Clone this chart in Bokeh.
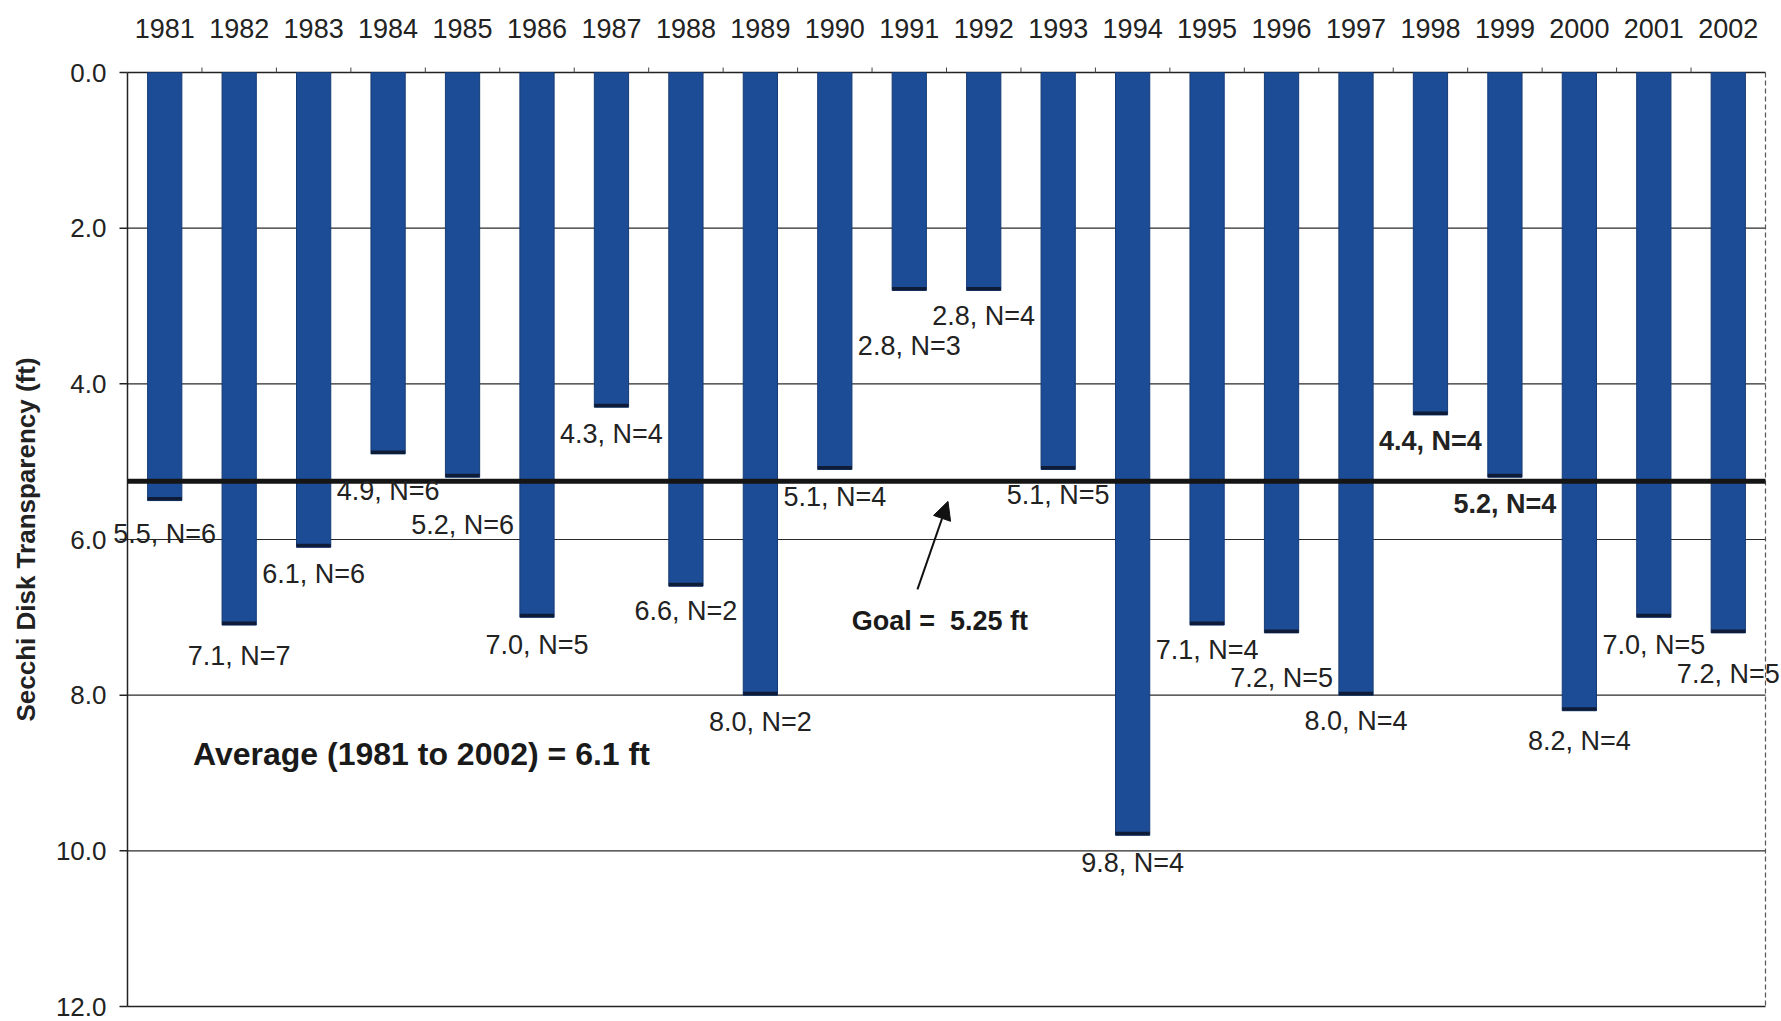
import math
from bokeh.plotting import figure
from bokeh.models import Range1d, ColumnDataSource, Label, Span, Arrow, NormalHead
from bokeh.embed import file_html
from bokeh.resources import INLINE

# ---------------- data ----------------
years = ["1981", "1982", "1983", "1984", "1985", "1986", "1987", "1988", "1989", "1990", "1991",
         "1992", "1993", "1994", "1995", "1996", "1997", "1998", "1999", "2000", "2001", "2002"]
secchi_ft = [5.5, 7.1, 6.1, 4.9, 5.2, 7.0, 4.3, 6.6, 8.0, 5.1, 2.8,
             2.8, 5.1, 9.8, 7.1, 7.2, 8.0, 4.4, 5.2, 8.2, 7.0, 7.2]
n_samples = [6, 7, 6, 6, 6, 5, 4, 2, 2, 4, 3,
             4, 5, 4, 4, 5, 4, 4, 4, 4, 5, 5]
goal_ft = 5.25
average_ft = 6.1
y_ticks = [0, 2, 4, 6, 8, 10, 12]
y_axis_title = "Secchi Disk Transparency (ft)"

# ---------------- style / layout ----------------
FONT = "Liberation Sans"
TEXT = "#222222"
BAR_COLOR = "#1d4c97"
BAR_EDGE = "#163b74"
W, H = 1781, 1021
PX_LEFT, PX_RIGHT, PX_TOP, PX_BOTTOM = 127, 1765, 72, 1006   # plot-area box in page pixels
# extra downward pixel offset of each data label (layout only)
label_drop_px = [33, 31, 27, 37, 48, 28, 27, 25, 27, 28, 56,
                 26, 26, 28, 25, 45, 26, 26, 27, 30, 28, 41]
bold_label_years = {"1998", "1999"}

n = len(years)
y_max = y_ticks[-1]
sx = (PX_RIGHT - PX_LEFT) / n          # pixels per category
sy = (PX_BOTTOM - PX_TOP) / y_max      # pixels per foot

def px_x(px):
    return (px - PX_LEFT) / sx

xs = [i + 0.5 for i in range(n)]
caps = [v - 0.045 for v in secchi_ft]

# the whole canvas is the frame, so that labels may run past the plot-area box
p = figure(width=W, height=H, output_backend="svg", toolbar_location=None,
           x_range=Range1d(px_x(0), px_x(W)),
           y_range=Range1d(y_max + (H - PX_BOTTOM) / sy, -PX_TOP / sy),
           x_axis_location=None, y_axis_location=None,
           min_border=0, min_border_left=0, min_border_right=0,
           min_border_top=0, min_border_bottom=0)
p.background_fill_color = "white"
p.border_fill_color = "white"
p.outline_line_color = None
p.xgrid.visible = False
p.ygrid.visible = False

# grid lines (interior ticks)
grid = y_ticks[1:-1]
p.segment(x0=[0] * len(grid), x1=[n] * len(grid), y0=grid, y1=grid,
          line_color="#2a2a2a", line_width=1.2)

# plot-area box: left axis, top axis, bottom, dashed right border
p.segment(x0=[0, 0, 0], x1=[0, n, n], y0=[0, 0, y_max], y1=[y_max, 0, y_max],
          line_color="#222222", line_width=1.5)
p.segment(x0=[n], x1=[n], y0=[0], y1=[y_max], line_color="#555555",
          line_width=1.2, line_dash="5 3")

# y ticks (outward) and tick labels
p.ray(x=[0] * len(y_ticks), y=y_ticks, length=8, length_units="screen", angle=math.pi,
      line_color="#222222", line_width=1.5)
for t in y_ticks:
    p.add_layout(Label(x=0, y=t, x_offset=-21, text=f"{t:.1f}", text_align="right",
                       text_baseline="middle", text_font=FONT, text_font_size="26px",
                       text_color=TEXT))

# small top ticks between categories
bounds = list(range(1, n))
p.ray(x=bounds, y=[0] * len(bounds), length=5, length_units="screen", angle=math.pi / 2,
      line_color="#444444", line_width=1)

# year labels on top
for x, yr in zip(xs, years):
    p.add_layout(Label(x=x, y=0, y_offset=44, text=yr, text_align="center",
                       text_baseline="middle", text_font=FONT, text_font_size="27px",
                       text_color=TEXT))

# y-axis title
p.add_layout(Label(x=px_x(25), y=y_max / 2, text=y_axis_title, angle=math.pi / 2,
                   text_align="center", text_baseline="middle", text_font=FONT,
                   text_font_size="26px", text_font_style="bold", text_color=TEXT))

# bars
src = ColumnDataSource(dict(x=xs, top=secchi_ft, cap=caps))
p.vbar(x="x", bottom=0, top="top", width=0.46, source=src,
       fill_color=BAR_COLOR, line_color=BAR_EDGE, line_width=1)
p.vbar(x="x", bottom="cap", top="top", width=0.46, source=src,
       fill_color="#0e1c38", line_color=None)

# data labels
for x, yr, v, k, drop in zip(xs, years, secchi_ft, n_samples, label_drop_px):
    p.add_layout(Label(x=x, y=v, y_offset=-drop, text=f"{v:.1f}, N={k}",
                       text_align="center", text_baseline="middle",
                       text_font=FONT, text_font_size="27px", text_color=TEXT,
                       text_font_style="bold" if yr in bold_label_years else "normal"))

# goal line across the plot area
p.segment(x0=[0], x1=[n], y0=[goal_ft], y1=[goal_ft], line_color="#151515", line_width=5)

# goal annotation + arrow
p.add_layout(Arrow(x_start=10.61, y_start=6.64, x_end=11.02, y_end=5.51,
                   line_color="#111111", line_width=2,
                   end=NormalHead(size=18, fill_color="#111111", line_color="#111111")))
p.add_layout(Label(x=10.91, y=7.05, text=f"Goal =\u00a0 {goal_ft:.2f} ft",
                   text_align="center", text_baseline="middle",
                   text_font=FONT, text_font_size="27px", text_font_style="bold",
                   text_color="#1a1a1a"))

# average annotation
p.add_layout(Label(x=0.88, y=8.75,
                   text=f"Average ({years[0]} to {years[-1]}) = {average_ft:.1f} ft",
                   text_align="left", text_baseline="middle",
                   text_font=FONT, text_font_size="32px", text_font_style="bold",
                   text_color="#1a1a1a"))

open("out.html", "w").write(file_html(p, INLINE))
